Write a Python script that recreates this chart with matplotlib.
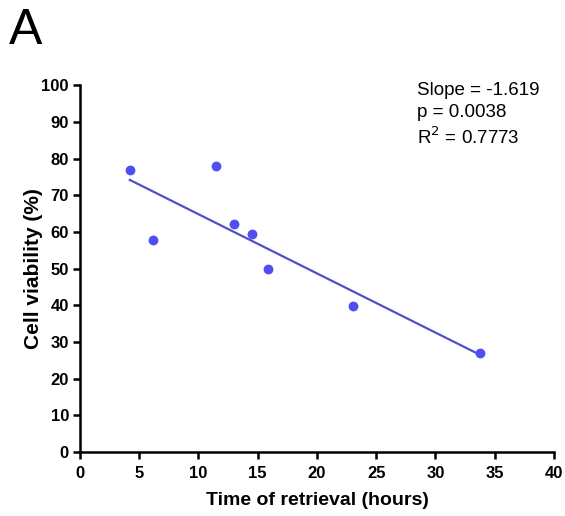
import numpy as np
import matplotlib.pyplot as plt

plt.rcParams['font.family'] = ['Liberation Sans', 'DejaVu Sans']

# time of retrieval (hours) and cell viability (%)
hours = np.array([4.2, 6.2, 11.5, 13.0, 14.5, 15.9, 23.0, 33.75])
viability = np.array([76.8, 57.8, 77.9, 62.1, 59.4, 49.9, 39.8, 27.0])

slope_txt = "Slope = -1.619"
p_txt = "p = 0.0038"
r2_txt = "R$^2$ = 0.7773"

k, b = np.polyfit(hours, viability, 1)
xfit = np.array([hours.min(), hours.max()])

fig = plt.figure(figsize=(5.65, 5.16), dpi=100)
ax = fig.add_axes([0.1416, 0.124, 0.8389, 0.711])

ax.plot(xfit, k * xfit + b, color="#5050c8", lw=1.6, zorder=2)
ax.scatter(hours, viability, s=50, color="#4f4ff0", zorder=3, linewidths=0)

ax.set_xlim(0, 40)
ax.set_ylim(0, 100)
ax.set_xticks(np.arange(0, 41, 5))
ax.set_yticks(np.arange(0, 101, 10))
for s in ["top", "right"]:
    ax.spines[s].set_visible(False)
for s in ["left", "bottom"]:
    ax.spines[s].set_linewidth(1.8)
ax.tick_params(width=1.8, length=5, labelsize=12, pad=3)
ax.tick_params(axis="x", pad=5)
for lab in ax.get_xticklabels() + ax.get_yticklabels():
    lab.set_fontweight("bold")

ax.set_xlabel("Time of retrieval (hours)", fontsize=14, fontweight="bold", labelpad=8)
ax.set_ylabel("Cell viability (%)", fontsize=15, fontweight="bold")
ax.yaxis.set_label_coords(-0.078, 0.5)

ax.text(0.711, 0.986, slope_txt, transform=ax.transAxes, fontsize=13.5, va="center")
ax.text(0.711, 0.926, p_txt, transform=ax.transAxes, fontsize=13.5, va="center")
ax.text(0.711, 0.858, r2_txt, transform=ax.transAxes, fontsize=13.5, va="center")

fig.text(0.016, 0.915, "A", fontsize=36, va="baseline")

fig.savefig("out.png")
